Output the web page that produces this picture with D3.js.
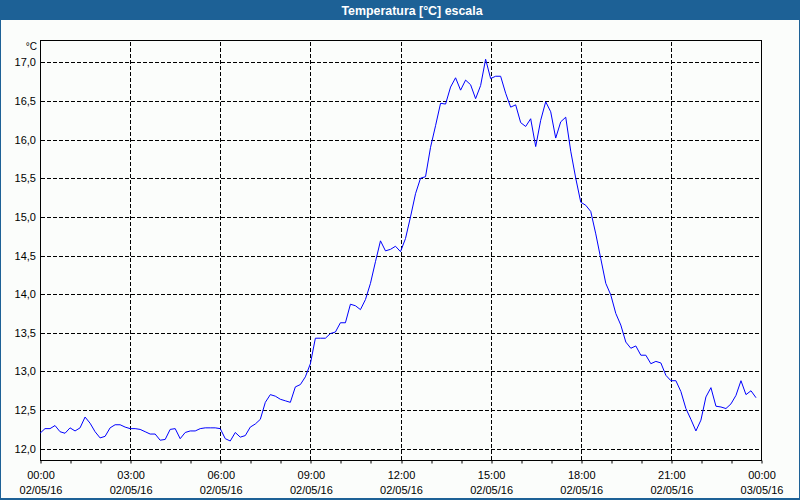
<!DOCTYPE html>
<html><head><meta charset="utf-8">
<script src="https://cdn.jsdelivr.net/npm/d3@7"></script>
<style>body{margin:0;background:#fff}svg{display:block}</style>
</head><body>
<svg id="c" width="800" height="500"></svg>
<script>
const chartTitle = "Temperatura [°C] escala";
const unitLabel = "°C";
const startTime = new Date(2016, 4, 2, 0, 0);
const endTime = new Date(2016, 4, 3, 0, 0);
const stepMinutes = 10;
const temps = [
 12.20,12.26,12.26,12.30,12.22,12.20,12.27,12.23,12.27,12.41,
 12.33,12.22,12.14,12.16,12.27,12.31,12.31,12.28,12.26,12.26,
 12.25,12.22,12.19,12.19,12.11,12.12,12.25,12.26,12.13,12.21,
 12.23,12.23,12.26,12.27,12.27,12.27,12.26,12.13,12.10,12.21,
 12.15,12.17,12.28,12.32,12.38,12.60,12.70,12.68,12.64,12.62,
 12.60,12.80,12.83,12.93,13.10,13.43,13.43,13.43,13.49,13.51,
 13.63,13.63,13.87,13.85,13.80,13.93,14.14,14.42,14.69,14.56,
 14.58,14.62,14.55,14.72,15.00,15.30,15.50,15.52,15.90,16.18,
 16.47,16.46,16.68,16.80,16.64,16.77,16.71,16.53,16.70,17.04,
 16.79,16.82,16.82,16.60,16.42,16.45,16.22,16.17,16.27,15.91,
 16.25,16.49,16.36,16.02,16.23,16.29,15.85,15.50,15.19,15.15,
 15.07,14.78,14.46,14.14,13.99,13.75,13.60,13.38,13.30,13.33,
 13.21,13.21,13.10,13.13,13.11,12.95,12.88,12.88,12.74,12.52,
 12.38,12.23,12.37,12.67,12.79,12.55,12.54,12.52,12.58,12.69,
 12.88,12.70,12.75,12.66
];
const yTicks = [12.0,12.5,13.0,13.5,14.0,14.5,15.0,15.5,16.0,16.5,17.0];
const xLabelHours = [0,3,6,9,12,15,18,21,24];
const xMinorHours = d3.range(0, 25);

const svg = d3.select("#c");
const W = 800, H = 500;
const L = 40, R = 761, T = 40, B = 460;
const font = "'Liberation Sans', Arial, sans-serif";

svg.append("rect").attr("width", W).attr("height", H).attr("fill", "#fbfdfb");
svg.append("rect").attr("x", 0).attr("y", 0).attr("width", W).attr("height", 20).attr("fill", "#1d6196");
svg.append("rect").attr("x", 0.5).attr("y", 0.5).attr("width", W - 1).attr("height", H - 1)
  .attr("fill", "none").attr("stroke", "#1d6196").attr("stroke-width", 1);
svg.append("line").attr("x1", 0).attr("x2", W).attr("y1", H - 1).attr("y2", H - 1)
  .attr("stroke", "#1d6196").attr("stroke-width", 2);

svg.append("text").attr("x", 412).attr("y", 15).attr("text-anchor", "middle")
  .attr("fill", "#fff").attr("font-family", font).attr("font-weight", "bold")
  .attr("font-size", 12.4).text(chartTitle);

const x = d3.scaleTime().domain([startTime, endTime]).range([L, R]);
const y = d3.scaleLinear().domain([11.854, 17.289]).range([B, T]);
const hourDate = h => new Date(startTime.getTime() + h * 3600000);

// grid
const grid = svg.append("g").attr("stroke", "#000").attr("stroke-width", 1).attr("stroke-dasharray", "4,2");
grid.selectAll("line.h").data(yTicks).join("line")
  .attr("x1", L + 1).attr("x2", R)
  .attr("y1", d => Math.round(y(d)) + 0.5).attr("y2", d => Math.round(y(d)) + 0.5);
grid.selectAll("line.v").data(xLabelHours.slice(1, -1)).join("line")
  .attr("y1", T + 2).attr("y2", B)
  .attr("x1", d => Math.round(x(hourDate(d))) + 0.5).attr("x2", d => Math.round(x(hourDate(d))) + 0.5);

// frame
svg.append("rect").attr("x", L + 0.5).attr("y", T + 0.5).attr("width", R - L).attr("height", B - T)
  .attr("fill", "none").attr("stroke", "#000").attr("stroke-width", 1);

// x minor ticks
const xAxis = d3.axisBottom(x).tickValues(xMinorHours.map(hourDate)).tickSize(3).tickFormat("");
const gx = svg.append("g").attr("transform", `translate(0.5,${B + 0.5})`).call(xAxis);
gx.select(".domain").remove();
gx.selectAll("line").attr("stroke", "#000").attr("transform", d => `translate(${Math.round(x(d)) - x(d)},0)`);

// x labels
const fmtT = d3.timeFormat("%H:%M"), fmtD = d3.timeFormat("%d/%m/%y");
const xl = svg.append("g").attr("font-family", font).attr("font-size", 11).attr("fill", "#000").attr("text-anchor", "middle");
xl.selectAll("text").data(xLabelHours.map(hourDate)).join("text")
  .attr("x", d => x(d) + 1).attr("y", 479)
  .each(function(d) {
    const t = d3.select(this);
    t.append("tspan").attr("x", x(d) + 1).attr("y", 479).text(fmtT(d));
    t.append("tspan").attr("x", x(d) + 1).attr("y", 494).text(fmtD(d));
  });

// y labels
const fmtY = v => d3.format(".1f")(v).replace(".", ",");
svg.append("g").attr("font-family", font).attr("font-size", 11).attr("fill", "#000").attr("text-anchor", "end")
  .selectAll("text").data(yTicks).join("text")
  .attr("x", 36).attr("y", d => y(d) + 4).text(fmtY);

svg.append("text").attr("x", 37).attr("y", 50).attr("text-anchor", "end")
  .attr("font-family", font).attr("font-size", 10).attr("fill", "#000").text(unitLabel);

// line
const pts = temps.map((v, i) => ({t: new Date(startTime.getTime() + i * stepMinutes * 60000), v}));
const line = d3.line().x(d => x(d.t)).y(d => y(d.v));
svg.append("path").datum(pts).attr("d", line).attr("fill", "none")
  .attr("stroke", "#0000ff").attr("stroke-width", 1);
</script>
</body></html>
